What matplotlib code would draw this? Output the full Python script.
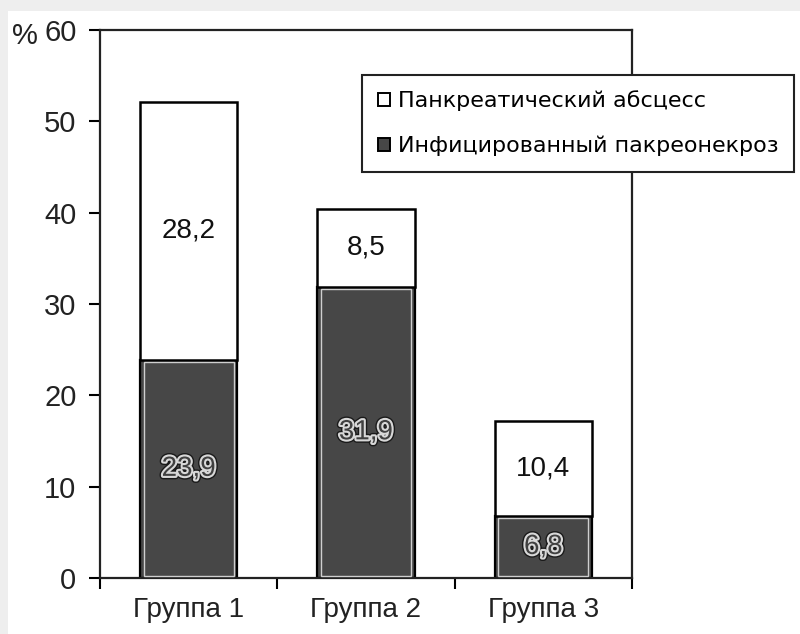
import matplotlib
matplotlib.use("Agg")
import matplotlib.pyplot as plt
from matplotlib.patches import Rectangle, Patch
import matplotlib.patheffects as pe

plt.rcParams['font.family'] = ['Liberation Sans', 'DejaVu Sans']

categories = ["Группа 1", "Группа 2", "Группа 3"]
infected = [23.9, 31.9, 6.8]
abscess = [28.2, 8.5, 10.4]
infected_labels = ["23,9", "31,9", "6,8"]
abscess_labels = ["28,2", "8,5", "10,4"]
series_names = ["Панкреатический абсцесс", "Инфицированный пакреонекроз"]
yticks = [0, 10, 20, 30, 40, 50, 60]

fig = plt.figure(figsize=(8, 6.34), dpi=100, facecolor='#eeeeee')
bg = Rectangle((8/800, 0), 1, 1 - 11/634, transform=fig.transFigure,
               facecolor='white', edgecolor='none', zorder=-10)
fig.add_artist(bg)
ax = fig.add_axes([0.125, 0.0883, 0.665, 0.8644])
ax.set_zorder(1)
ax.set_facecolor('white')

x = list(range(len(categories)))
w = 0.55
dark = ax.bar(x, infected, width=w, color='#474747', edgecolor='black', linewidth=1.6, zorder=2)
for b in dark:
    ax.bar(b.get_x() + b.get_width()/2, b.get_height() - 0.5, width=b.get_width()*0.92,
           bottom=0.25, color='none', edgecolor='#cfcfcf', linewidth=1.0, zorder=3)
ax.bar(x, abscess, width=w, bottom=infected, color='white', edgecolor='black',
       linewidth=1.8, zorder=2)

for i in x:
    ax.text(i, infected[i] / 2, infected_labels[i], ha='center', va='center', fontsize=20,
            color='#404040', zorder=4,
            path_effects=[pe.Stroke(linewidth=5, foreground='#1a1a1a'),
                          pe.Stroke(linewidth=3, foreground='#d8d8d8'),
                          pe.Normal()])
    ax.text(i, infected[i] + abscess[i] / 2, abscess_labels[i], ha='center', va='center',
            fontsize=20, color='#111111', zorder=4)

ax.set_xlim(-0.5, 2.5)
ax.set_ylim(0, 60)
ax.set_yticks(yticks)
ax.set_yticklabels([str(t) for t in yticks], fontsize=21, color='#222222')
ax.set_xticks(x)
ax.set_xticklabels(categories, fontsize=20, color='#222222')
ax.tick_params(axis='x', which='major', length=0, pad=14)
ax.set_xticks([-0.5, 0.5, 1.5, 2.5], minor=True)
ax.tick_params(axis='x', which='minor', length=8, width=1.5, direction='out')
ax.tick_params(axis='y', length=8, width=1.5, direction='out', pad=9)
for s in ax.spines.values():
    s.set_linewidth(1.6)
    s.set_color('#222222')

fig.text(12/800, 1 - 36/634, '%', fontsize=21, color='#222222', va='center', ha='left')

handles = [Patch(facecolor='white', edgecolor='black', linewidth=1.4),
           Patch(facecolor='#474747', edgecolor='black', linewidth=1.4)]
leg = fig.legend(handles, series_names, loc='upper left',
                 bbox_to_anchor=(362/800, 1 - 75/634),
                 prop={'family': 'DejaVu Sans', 'size': 16},
                 frameon=True, fancybox=False, edgecolor='#222222', framealpha=1,
                 handlelength=0.55, handleheight=0.55, handletextpad=0.35,
                 labelspacing=1.1, borderpad=0.7, borderaxespad=0)
leg.get_frame().set_linewidth(1.5)
leg.set_zorder(5)

fig.savefig('out.png', dpi=100, facecolor=fig.get_facecolor())
